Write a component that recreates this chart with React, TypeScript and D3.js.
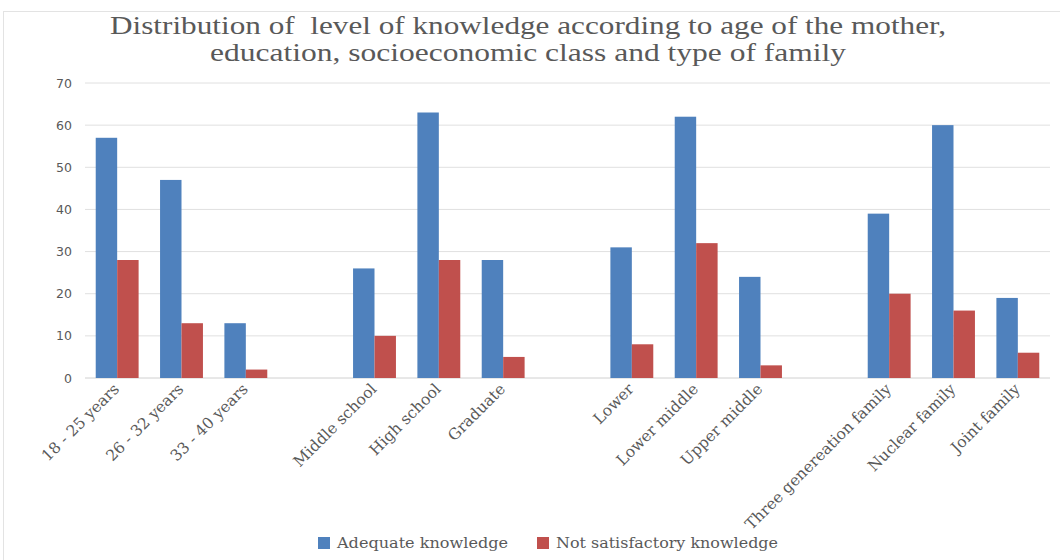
import React from "react";
import * as d3 from "d3";

const categories = [
  "18 - 25 years", "26 - 32 years", "33 - 40 years", "",
  "Middle school", "High school", "Graduate", " ",
  "Lower", "Lower middle", "Upper middle", "  ",
  "Three genereation family", "Nuclear family", "Joint family",
];
const adequate: (number | null)[] = [57, 47, 13, null, 26, 63, 28, null, 31, 62, 24, null, 39, 60, 19];
const notSatisfactory: (number | null)[] = [28, 13, 2, null, 10, 28, 5, null, 8, 32, 3, null, 20, 16, 6];
const seriesNames = ["Adequate knowledge", "Not satisfactory knowledge"];
const seriesColors = ["#4f81bd", "#c0504d"];
const yTicks = [0, 10, 20, 30, 40, 50, 60, 70];
const titleLines = [
  "Distribution of  level of knowledge according to age of the mother,",
  "education, socioeconomic class and type of family",
];

const W = 1060, H = 560;
const left = 85, right = 1050, top = 83, bottom = 378;

export default function App() {
  const x0 = d3.scaleBand<string>().domain(categories).range([left, right]).paddingInner(1 / 3).paddingOuter(1 / 6);
  const x1 = d3.scaleBand<string>().domain(seriesNames).range([0, x0.bandwidth()]);
  const y = d3.scaleLinear().domain([0, 70]).range([bottom, top]);
  const data = [adequate, notSatisfactory];
  const titleFont = "'Liberation Serif', serif";
  const labelFont = "'DejaVu Serif', serif";

  return (
    <svg width={W} height={H} style={{ position: "absolute", left: 0, top: 0, background: "#fff" }}>
      <rect x={3.5} y={11.5} width={W} height={H} fill="none" stroke="#e3e3e3" />
      {titleLines.map((t, i) => (
        <text key={i} x={W / 2 - 2} y={34 + i * 27} textAnchor="middle" fontFamily={titleFont}
          fontSize={25} fill="#595959" style={{ whiteSpace: "pre" }}
          textLength={i === 0 ? 836 : 636} lengthAdjust="spacingAndGlyphs">{t}</text>
      ))}
      {yTicks.map((t) => (
        <g key={t}>
          <line x1={left} x2={right} y1={y(t)} y2={y(t)} stroke={t === 0 ? "#d0d0d0" : "#e0e0e0"} />
          <text x={72} y={y(t) + 4.5} textAnchor="end" fontFamily="'DejaVu Sans', sans-serif" fontSize={12.5} fill="#595959">{t}</text>
        </g>
      ))}
      {categories.map((c, ci) => (
        <g key={ci}>
          {data.map((s, si) => {
            const v = s[ci];
            if (v == null) return null;
            return (
              <rect key={si} x={(x0(c) as number) + (x1(seriesNames[si]) as number)} y={y(v)}
                width={x1.bandwidth()} height={y(0) - y(v)} fill={seriesColors[si]} />
            );
          })}
          {c.trim() !== "" && (
            <text transform={`translate(${(x0(c) as number) + x0.bandwidth() / 2 + 3},${bottom + 12}) rotate(-45)`}
              textAnchor="end" fontFamily={labelFont} fontSize={15.5} fill="#595959">{c}</text>
          )}
        </g>
      ))}
      {seriesNames.map((n, i) => {
        const lx = [318, 537][i];
        return (
          <g key={n}>
            <rect x={lx} y={537} width={12} height={12} fill={seriesColors[i]} />
            <text x={lx + 19} y={548} fontFamily={labelFont} fontSize={15} fill="#595959"
              textLength={i === 0 ? 171 : 222} lengthAdjust="spacingAndGlyphs">{n}</text>
          </g>
        );
      })}
    </svg>
  );
}
